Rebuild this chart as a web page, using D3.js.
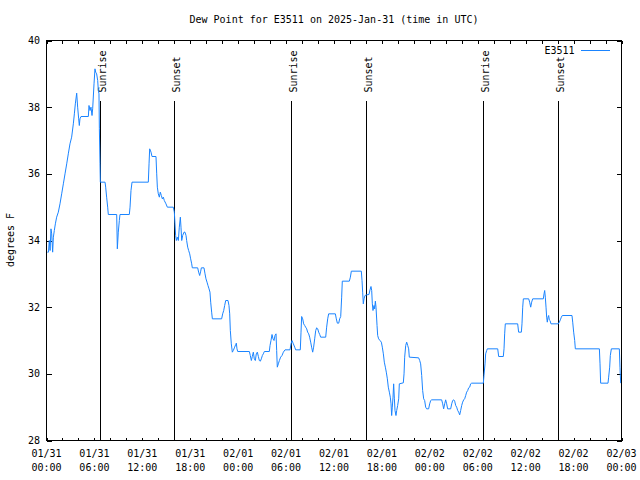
<!DOCTYPE html>
<html><head><meta charset="utf-8">
<script src="https://cdn.jsdelivr.net/npm/d3@7"></script>
<style>
html,body{margin:0;padding:0;background:#fff;}
svg{display:block;background:#fff;}
text{font-family:"DejaVu Sans Mono",monospace;font-size:10px;fill:#000;}
</style></head><body>
<svg id="chart" width="640" height="480"></svg>
<script>
// ---------------- data ----------------
const chartTitle = "Dew Point for E3511 on 2025-Jan-31 (time in UTC)";
const seriesName = "E3511";
const yAxisTitle = "degrees F";
const startUTC = "2025-01-31T00:00:00Z";
const endUTC = "2025-02-03T00:00:00Z";

// hours since 2025-01-31 00:00 UTC
const hours = [
 0.10,0.25,0.35,0.45,0.56,0.65,0.77,0.86,0.98,1.11,1.27,1.48,1.69,1.90,2.11,2.32,2.53,2.73,2.94,3.15,3.36,3.49,3.61,3.78,3.90,4.03,4.11,4.19,4.32,5.24,5.32,5.45,5.57,5.70,5.78,5.95,6.07,6.16,6.28,6.41,6.49,6.57,6.62,6.70,6.74,7.33,7.41,7.53,7.66,7.74,8.79,8.87,8.99,9.12,9.20,10.37,10.46,10.58,10.71,12.75,12.84,12.92,13.09,13.21,13.71,13.80,13.88,14.00,14.13,14.25,14.38,14.50,14.63,14.75,14.96,15.13,15.88,
 16.01,16.09,16.17,16.26,16.38,16.51,16.63,16.76,16.84,16.93,17.05,17.22,17.34,17.47,17.55,17.68,17.80,17.93,18.05,18.18,18.26,18.93,19.05,19.18,19.31,19.39,19.72,19.85,19.97,20.10,20.22,20.35,20.47,20.56,20.68,20.77,21.93,22.06,22.19,22.31,22.44,22.73,22.85,22.94,23.02,23.14,23.27,23.39,23.56,23.69,23.77,23.85,23.94,25.40,25.52,25.65,25.77,25.90,26.02,26.15,26.27,26.40,26.53,26.65,26.78,26.90,27.03,27.15,27.28,27.90,27.99,28.11,28.24,28.36,28.49,28.61,28.74,28.82,28.90,29.03,29.16,29.32,29.49,29.66,29.87,30.49,
 30.62,30.74,30.91,31.08,31.20,31.78,31.87,31.95,32.08,32.20,32.33,32.45,32.58,32.70,32.83,32.95,33.08,33.20,33.33,33.45,33.58,33.71,33.83,33.96,34.08,34.21,34.33,34.96,35.08,35.21,35.33,36.17,36.29,36.42,36.59,36.71,36.84,36.96,37.04,37.92,38.05,38.17,39.42,39.51,39.59,39.67,39.76,39.88,40.09,40.38,40.51,40.63,40.72,40.80,40.88,41.01,41.09,41.18,41.26,41.39,41.47,41.59,41.76,41.93,42.05,42.18,42.30,42.43,42.55,42.68,42.80,42.93,43.05,43.14,43.22,43.30,43.39,43.47,43.56,43.64,43.76,43.85,43.97,44.10,44.18,44.68,44.77,44.85,44.98,45.10,45.23,45.35,45.43,46.60,46.73,46.85,46.98,47.10,47.23,47.35,47.48,47.60,47.85,47.98,48.11,48.23,49.48,49.61,49.73,49.86,49.98,50.11,50.23,50.61,50.74,50.86,50.99,51.11,51.24,51.36,51.49,51.61,51.74,51.86,51.99,52.11,52.24,52.36,52.49,52.61,52.74,52.86,52.99,53.11,53.24,54.70,
 54.78,54.91,54.99,55.12,55.20,56.50,56.62,57.20,57.29,57.37,57.45,59.00,59.12,59.46,59.54,59.63,59.71,60.38,60.50,60.63,60.75,60.88,62.21,62.30,62.38,62.46,62.55,62.63,62.71,62.80,62.88,62.96,63.05,63.17,64.09,64.22,64.34,64.47,64.59,65.80,65.89,66.01,66.14,66.22,69.23,69.31,69.39,70.31,70.39,70.52,70.60,70.73,71.73,71.81,71.90
];
const dewF = [
 33.65,33.65,34.0,33.7,34.35,34.2,33.65,34.1,34.3,34.5,34.7,34.85,35.1,35.4,35.7,36.0,36.3,36.6,36.9,37.1,37.5,37.8,38.1,38.42,38.0,37.65,37.45,37.65,37.72,37.72,38.05,37.9,38.0,37.75,37.95,38.7,39.15,39.05,39.0,38.8,38.5,38.4,37.35,36.3,35.75,35.75,35.6,35.3,35.0,34.78,34.78,33.75,34.25,34.6,34.78,34.78,35.0,35.5,35.75,35.75,36.3,36.75,36.65,36.52,36.52,36.0,35.6,35.4,35.3,35.45,35.35,35.25,35.3,35.2,35.1,35.0,35.0,
 34.85,34.5,34.15,34.0,34.1,34.0,34.4,34.7,34.4,34.0,34.15,34.25,34.25,34.15,34.0,33.8,33.7,33.6,33.45,33.3,33.18,33.18,33.05,32.95,33.08,33.18,33.18,33.0,32.85,32.75,32.65,32.55,32.45,32.15,31.85,31.65,31.65,31.8,31.9,32.05,32.2,32.2,32.05,31.8,31.3,30.9,30.65,30.7,30.8,30.88,30.92,30.75,30.67,30.67,30.55,30.4,30.52,30.65,30.45,30.4,30.6,30.65,30.52,30.4,30.38,30.45,30.55,30.6,30.67,30.67,30.85,31.0,31.18,31.05,31.0,31.15,31.2,30.7,30.2,30.3,30.4,30.5,30.55,30.65,30.72,30.72,
 30.9,31.0,30.9,30.8,30.72,30.72,31.25,31.72,31.65,31.5,31.45,31.4,31.35,31.25,31.2,31.1,30.95,30.8,30.65,30.8,31.05,31.3,31.38,31.35,31.25,31.18,31.1,31.1,31.4,31.65,31.8,31.8,31.65,31.52,31.52,31.65,31.72,32.3,32.78,32.78,32.9,33.08,33.08,32.8,32.45,32.1,32.25,32.35,32.37,32.38,32.52,32.62,32.5,32.1,31.9,32.05,31.95,32.18,32.0,31.45,31.15,31.05,31.0,30.95,30.8,30.6,30.35,30.2,30.05,29.85,29.6,29.45,29.3,29.1,28.75,29.0,29.3,29.7,29.25,28.9,28.75,28.9,29.05,29.25,29.7,29.73,30.0,30.5,30.85,30.95,30.85,30.75,30.5,30.48,30.4,30.3,29.95,29.5,29.25,29.2,29.0,28.95,28.95,29.1,29.2,29.22,29.22,29.1,28.95,29.1,29.22,29.1,28.95,28.95,29.1,29.2,29.22,29.18,29.05,29.0,28.9,28.85,28.77,28.9,29.05,29.15,29.22,29.25,29.35,29.45,29.5,29.58,29.6,29.7,29.72,29.72,
 29.95,30.3,30.6,30.7,30.75,30.75,30.52,30.52,30.75,31.2,31.5,31.5,31.25,31.25,31.5,32.0,32.25,32.25,32.15,32.0,32.15,32.25,32.25,32.4,32.5,32.3,32.0,31.7,31.55,31.7,31.75,31.62,31.6,31.5,31.5,31.55,31.62,31.7,31.75,31.75,31.55,31.25,31.0,30.75,30.75,30.3,29.72,29.72,29.9,30.2,30.55,30.75,30.75,30.2,29.72
];

const sunLabels = ["Sunrise","Sunset","Sunrise","Sunset","Sunrise","Sunset"];
const sunTimes = ["2025-01-31T06:45Z","2025-01-31T16:03Z","2025-02-01T06:44Z","2025-02-01T16:04Z","2025-02-02T06:43Z","2025-02-02T16:06Z"];
const yTicks = [28,30,32,34,36,38,40];
const xMinorStepHours = 2;
const xLabelStepHours = 6;

// ---------------- chart ----------------
const svg = d3.select("#chart");
const t0 = new Date(startUTC), t1 = new Date(endUTC);
const x = d3.scaleUtc().domain([t0, t1]).range([46.5, 621.5]);
const y = d3.scaleLinear().domain([28, 40]).range([440.5, 40.5]);

const data = hours.map((h, i) => ({t: new Date(t0.getTime() + h * 3600e3), v: dewF[i]}));

// title
svg.append("text").attr("x", (x.range()[0] + x.range()[1]) / 2).attr("y", 23)
  .attr("text-anchor", "middle").text(chartTitle);

// y-axis title
svg.append("text").attr("transform", "translate(14,240) rotate(-90)")
  .attr("text-anchor", "middle").text(yAxisTitle);

// x ticks (inward, bottom and top)
const minorTicks = d3.utcHour.every(xMinorStepHours).range(t0, new Date(t1.getTime() + 1));
const bottomTicks = svg.append("g").attr("transform", "translate(0,440.5)")
  .call(d3.axisTop(x).tickValues(minorTicks).tickSize(3).tickFormat(""));
const topTicks = svg.append("g").attr("transform", "translate(0,40.5)")
  .call(d3.axisBottom(x).tickValues(minorTicks).tickSize(3).tickFormat(""));
// y ticks (inward, left and right)
const leftTicks = svg.append("g").attr("transform", "translate(46.5,0)")
  .call(d3.axisRight(y).tickValues(yTicks).tickSize(5).tickFormat(""));
const rightTicks = svg.append("g").attr("transform", "translate(621.5,0)")
  .call(d3.axisLeft(y).tickValues(yTicks).tickSize(5).tickFormat(""));
[bottomTicks, topTicks, leftTicks, rightTicks].forEach(g => {
  g.select(".domain").remove();
  g.selectAll("line").attr("stroke", "#000").attr("shape-rendering", "crispEdges");
});

// y labels
svg.append("g").selectAll("text").data(yTicks).join("text")
  .attr("x", 40).attr("y", d => y(d) + 3.5).attr("text-anchor", "end").text(d => d);

// x labels
const labelTicks = d3.utcHour.every(xLabelStepHours).range(t0, new Date(t1.getTime() + 1));
const fmtDate = d3.utcFormat("%m/%d"), fmtTime = d3.utcFormat("%H:%M");
const xl = svg.append("g").selectAll("text").data(labelTicks).join("text")
  .attr("text-anchor", "middle");
xl.append("tspan").attr("x", d => x(d)).attr("y", 456.5).text(d => fmtDate(d));
xl.append("tspan").attr("x", d => x(d)).attr("y", 471).text(d => fmtTime(d));

// sunrise / sunset markers
const sunData = sunTimes.map((s, i) => ({t: new Date(s), label: sunLabels[i]}));
const sunTopY = y.range()[1] + (y.range()[0] - y.range()[1]) * 0.15;
svg.append("g").selectAll("line").data(sunData).join("line")
  .attr("x1", d => x(d.t)).attr("x2", d => x(d.t))
  .attr("y1", sunTopY).attr("y2", y.range()[0])
  .attr("stroke", "#000").attr("stroke-width", 1).attr("shape-rendering", "crispEdges");
svg.append("g").selectAll("text").data(sunData).join("text")
  .attr("transform", d => `translate(${x(d.t) + 5.5},${sunTopY - 8}) rotate(-90)`)
  .attr("text-anchor", "start").text(d => d.label);

// data line
const line = d3.line().x(d => x(d.t)).y(d => y(d.v));
svg.append("path").datum(data).attr("d", line)
  .attr("fill", "none").attr("stroke", "#1a84ff").attr("stroke-width", 1)
  .attr("stroke-linejoin", "miter");

// border
svg.append("rect").attr("x", x.range()[0]).attr("y", y.range()[1])
  .attr("width", x.range()[1] - x.range()[0]).attr("height", y.range()[0] - y.range()[1])
  .attr("fill", "none").attr("stroke", "#000").attr("shape-rendering", "crispEdges");

// legend
svg.append("text").attr("x", 574.5).attr("y", 54).attr("text-anchor", "end").text(seriesName);
svg.append("line").attr("x1", 581).attr("x2", 609.5).attr("y1", 50.5).attr("y2", 50.5)
  .attr("stroke", "#1a84ff").attr("stroke-width", 1).attr("shape-rendering", "crispEdges");
</script>
</body></html>
